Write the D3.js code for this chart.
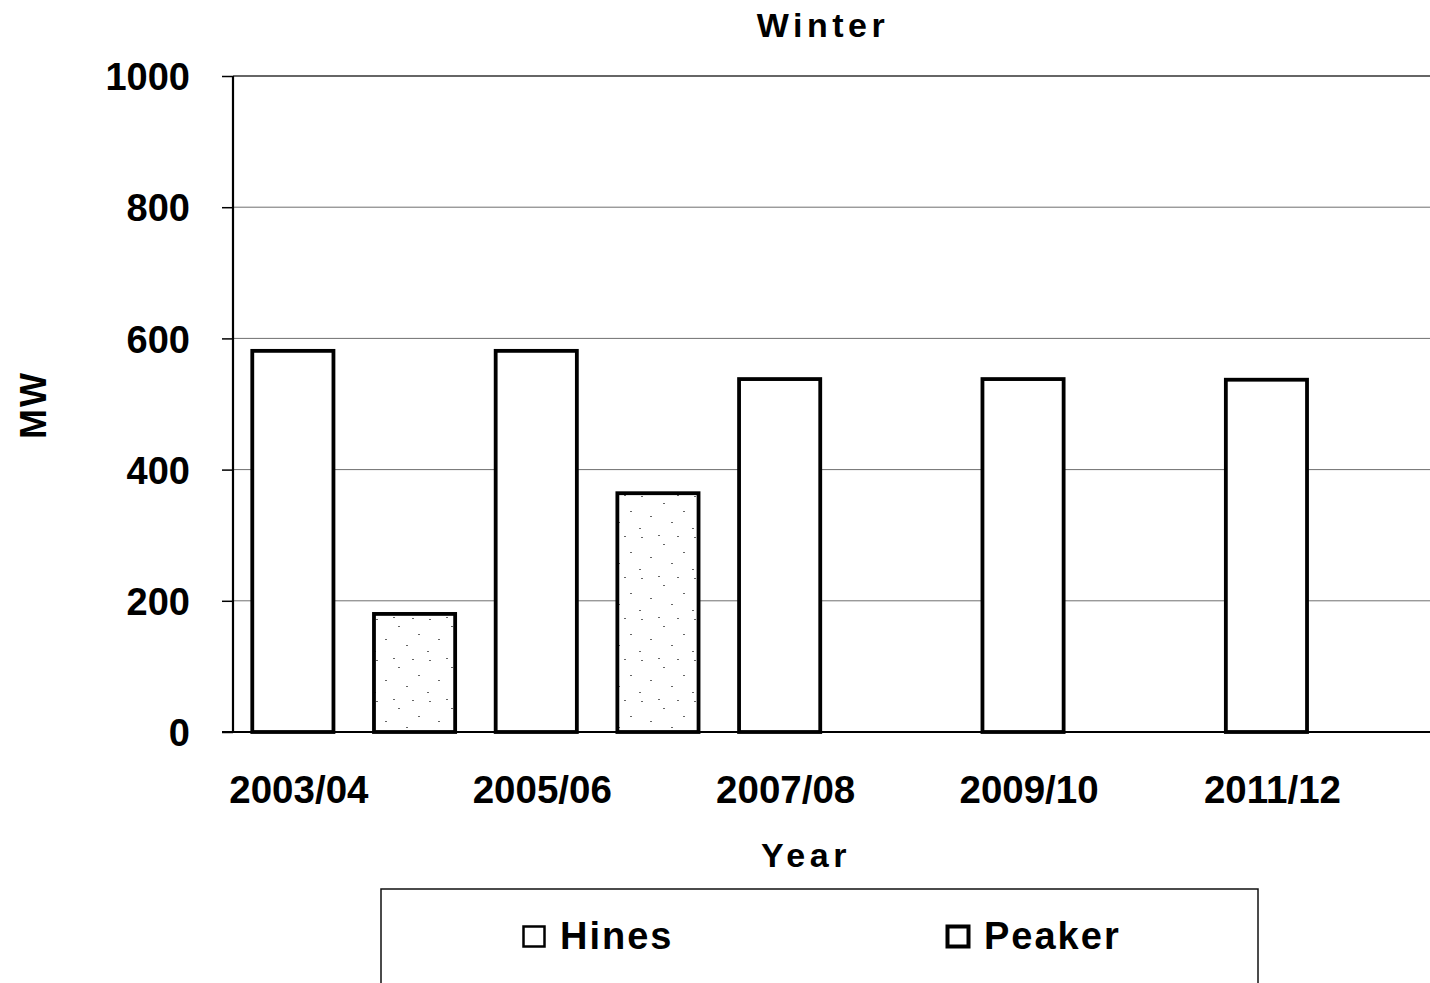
<!DOCTYPE html>
<html>
<head>
<meta charset="utf-8">
<script src="https://cdn.jsdelivr.net/npm/d3@7/dist/d3.min.js"></script>
<style>
  html, body { margin: 0; padding: 0; background: #fff; }
  svg { display: block; }
  text { font-family: "Liberation Sans", Arial, sans-serif; font-weight: bold; fill: #000; }
</style>
</head>
<body>
<svg id="chart" width="1430" height="983"></svg>
<script>
const categories = ["2003/04","2004/05","2005/06","2006/07","2007/08","2008/09","2009/10","2010/11","2011/12","2012/13"];
const tickLabels = ["2003/04","2005/06","2007/08","2009/10","2011/12"];
const hines  = [581, 0, 581, 0, 538, 0, 538, 0, 537, 0];
const peaker = [0, 180, 0, 364, 0, 0, 0, 0, 0, 0];
const yTicks = [0, 200, 400, 600, 800, 1000];
const seriesNames = ["Hines", "Peaker"];

const svg = d3.select("#chart");

// pattern for Peaker (sparse stipple)
const defs = svg.append("defs");
const pat = defs.append("pattern").attr("id", "stipple")
  .attr("patternUnits", "userSpaceOnUse").attr("width", 53).attr("height", 41);
pat.append("rect").attr("width", 53).attr("height", 41).attr("fill", "#fff");
[[5,4],[27,11],[41,3],[14,24],[35,30],[47,19],[3,36],[22,2]].forEach(([x,y]) =>
  pat.append("rect").attr("x", x).attr("y", y).attr("width", 2).attr("height", 1).attr("fill", "#666"));

const x = d3.scaleBand().domain(categories).range([232, 1449])
  .paddingInner(0.333).paddingOuter(0.1667);
const y = d3.scaleLinear().domain([0, 1000]).range([732, 76]);

// gridlines
svg.append("g").selectAll("line").data(yTicks.filter(d => d > 0)).join("line")
  .attr("x1", 233).attr("x2", 1449)
  .attr("y1", d => y(d)).attr("y2", d => y(d))
  .attr("stroke", d => d === 1000 ? "#333" : "#6f6f6f").attr("stroke-width", d => d === 1000 ? 1.5 : 1);

// bars
const barData = [];
categories.forEach((c, i) => {
  if (hines[i] > 0) barData.push({c, v: hines[i], s: "Hines"});
  if (peaker[i] > 0) barData.push({c, v: peaker[i], s: "Peaker"});
});
svg.append("g").selectAll("rect").data(barData).join("rect")
  .attr("x", d => x(d.c)).attr("width", x.bandwidth())
  .attr("y", d => y(d.v)).attr("height", d => y(0) - y(d.v))
  .attr("fill", d => d.s === "Peaker" ? "url(#stipple)" : "#fff")
  .attr("stroke", "#000").attr("stroke-width", 3.8);

// y axis
const yAxis = svg.append("g").attr("transform", "translate(233,0)")
  .call(d3.axisLeft(y).tickValues(yTicks).tickSize(11).tickPadding(32).tickFormat(d3.format("d")));
yAxis.select(".domain").attr("stroke", "#000").attr("stroke-width", 2.2).attr("d", "M0,76V732");
yAxis.selectAll(".tick line").attr("stroke", "#000").attr("stroke-width", 1.5);
yAxis.selectAll(".tick text").style("font-size", "38px").attr("dy", "0.36em");

// x axis
const xAxis = svg.append("g").attr("transform", "translate(0,732)")
  .call(d3.axisBottom(x).tickValues(tickLabels).tickSize(0).tickPadding(0));
xAxis.select(".domain").attr("stroke", "#000").attr("stroke-width", 2.2).attr("d", "M222,0H1449");
xAxis.selectAll(".tick text").style("font-size", "38.5px").attr("dy", null).attr("y", 71).attr("dx", 6);

// title
svg.append("text").attr("x", 823).attr("y", 37).attr("text-anchor", "middle")
  .style("font-size", "34px").style("letter-spacing", "4.5px").text("Winter");
// axis titles
svg.append("text").attr("x", 806).attr("y", 867).attr("text-anchor", "middle")
  .style("font-size", "34px").style("letter-spacing", "4.5px").text("Year");
svg.append("text").attr("transform", "translate(46,405) rotate(-90)").attr("text-anchor", "middle")
  .style("font-size", "36px").style("letter-spacing", "2px").text("MW");

// legend
svg.append("rect").attr("x", 381).attr("y", 889).attr("width", 877).attr("height", 120)
  .attr("fill", "#fff").attr("stroke", "#111").attr("stroke-width", 1.5);
const legX = [522, 946];
const lg = svg.append("g").selectAll("g").data(seriesNames).join("g")
  .attr("transform", (d, i) => `translate(${legX[i]},925)`);
lg.append("rect").attr("x", 1.5).attr("y", 1.5).attr("width", 21).attr("height", 20)
  .attr("fill", "#fff").attr("stroke", "#000").attr("stroke-width", (d, i) => i === 0 ? 2.5 : 4);
lg.append("text").attr("x", 38).attr("y", 24)
  .style("font-size", "38px").style("letter-spacing", "2px").text(d => d);
</script>
</body>
</html>
